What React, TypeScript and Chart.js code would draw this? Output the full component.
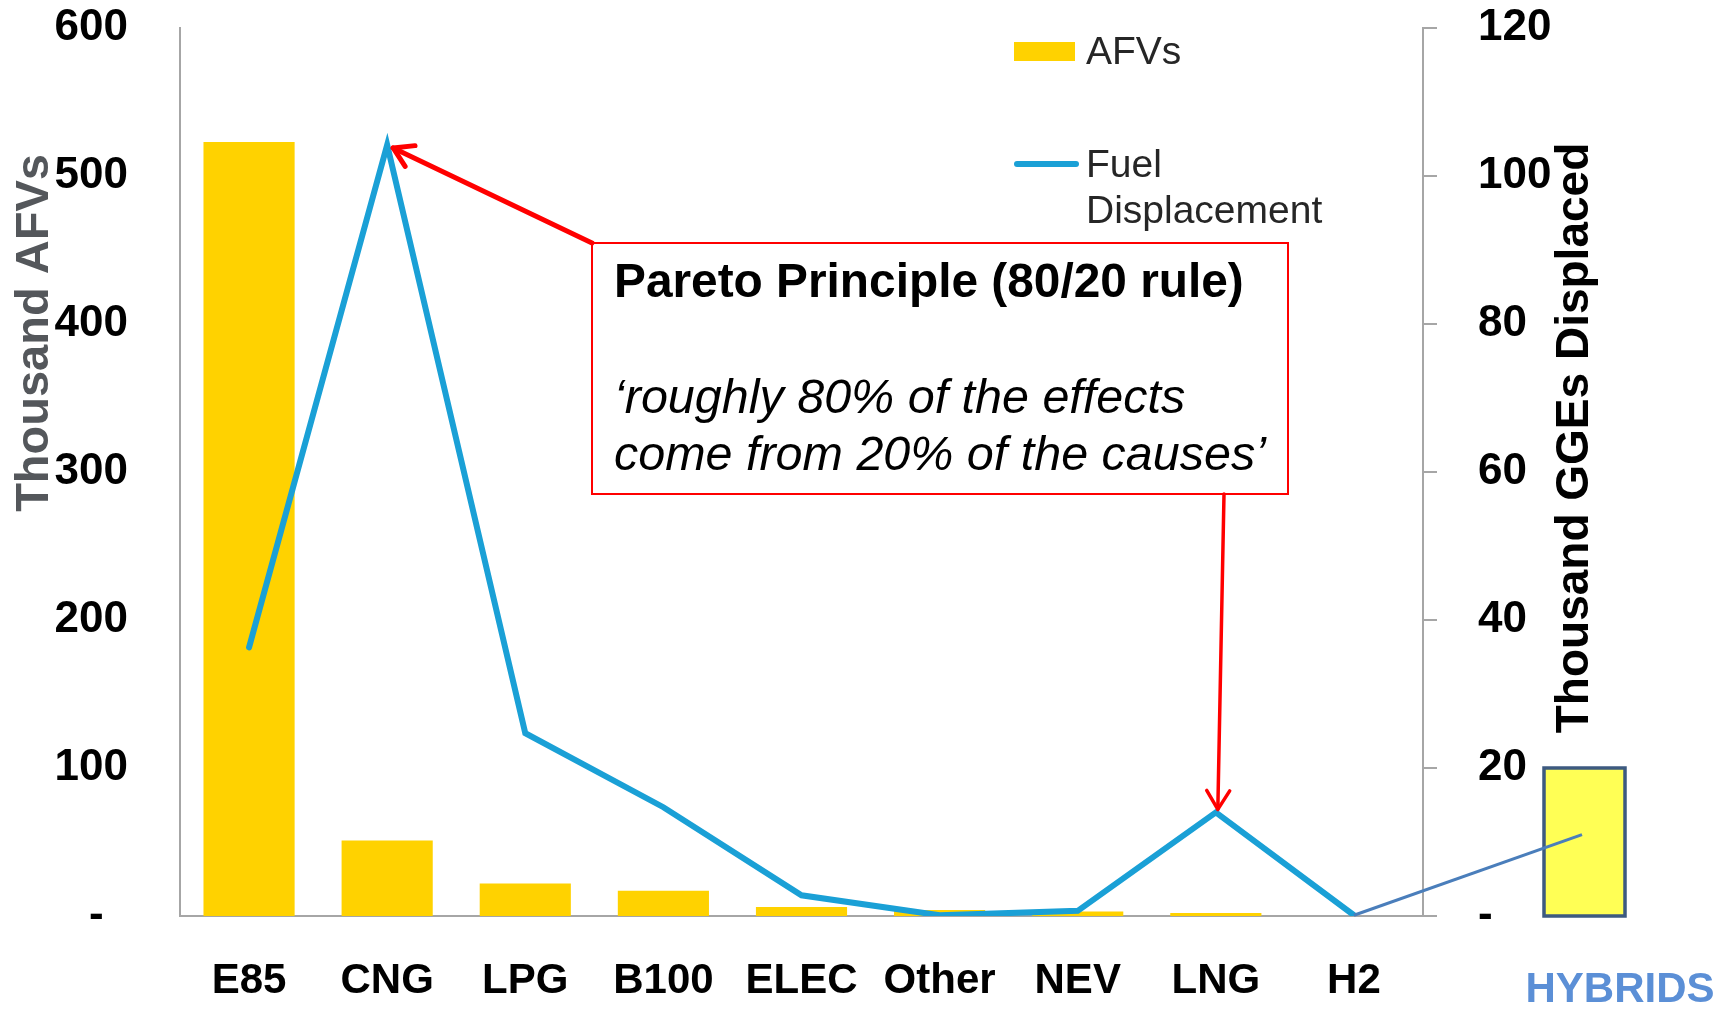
import React, { useEffect, useRef } from 'react';
import { Chart, registerables } from 'chart.js';

Chart.register(...registerables);

// ---------- data ----------
const categories = ['E85', 'CNG', 'LPG', 'B100', 'ELEC', 'Other', 'NEV', 'LNG', 'H2'];
const afvValues = [523, 51, 22, 17, 6, 4, 3, 2, 0];
const fuelDisplacementValues = [36.3, 104.2, 24.7, 14.7, 2.8, 0.1, 0.7, 14.0, 0.1];
const leftTickStep = 100;
const leftMax = 600;
const rightTickStep = 20;
const rightMax = 120;
const hybridsDisplacement = 20;
const hybridsPointerValue = 11;

const afvLabel = 'AFVs';
const fuelLabel = 'Fuel Displacement';
const fuelLegendLines = ['Fuel', 'Displacement'];
const leftTitle = 'Thousand AFVs';
const rightTitle = 'Thousand GGEs Displaced';
const noteTitle = 'Pareto Principle (80/20 rule)';
const noteLines = ['\u2018roughly 80% of the effects', 'come from 20% of the causes\u2019'];
const hybridsLabel = 'HYBRIDS';

// ---------- styles ----------
const FONT = '"Liberation Sans", Arial, sans-serif';
const YELLOW = '#FFD200';
const BLUE = '#1AA0D6';
const AXIS = '#a6a6a6';
const RED = '#FF0000';

function hasFont(ctx: CanvasRenderingContext2D, fam: string) {
  const s = 'abcdefghijklmnopqrstuvwxyz0123456789';
  ctx.font = '40px monospace';
  const a = ctx.measureText(s).width;
  ctx.font = `40px "${fam}", monospace`;
  const b = ctx.measureText(s).width;
  return Math.abs(a - b) > 0.5;
}

function fitSize(ctx: CanvasRenderingContext2D, text: string, style: string, family: string, width: number) {
  ctx.font = `${style} 100px ${family}`;
  const w = ctx.measureText(text).width;
  return (100 * width) / w;
}

function drawArrow(ctx: CanvasRenderingContext2D, x0: number, y0: number, x1: number, y1: number, head: number) {
  ctx.beginPath();
  ctx.moveTo(x0, y0);
  ctx.lineTo(x1, y1);
  ctx.stroke();
  const a = Math.atan2(y1 - y0, x1 - x0);
  const sp = 0.55;
  ctx.beginPath();
  ctx.moveTo(x1 - head * Math.cos(a - sp), y1 - head * Math.sin(a - sp));
  ctx.lineTo(x1, y1);
  ctx.lineTo(x1 - head * Math.cos(a + sp), y1 - head * Math.sin(a + sp));
  ctx.stroke();
}

const decor = {
  id: 'decor',
  afterDraw(chart: any) {
    const { ctx, scales } = chart;
    const xs = scales.x;
    const y1 = scales.y1;

    // axis titles
    ctx.save();
    ctx.fillStyle = '#54575b';
    ctx.font = `bold 47px ${FONT}`;
    ctx.textAlign = 'center';
    ctx.textBaseline = 'middle';
    ctx.translate(35, 333);
    ctx.rotate(-Math.PI / 2);
    ctx.fillText(leftTitle, 0, 0);
    ctx.restore();

    ctx.save();
    ctx.fillStyle = '#000';
    ctx.font = `bold 46px ${FONT}`;
    ctx.textAlign = 'center';
    ctx.textBaseline = 'middle';
    ctx.translate(1575, 438);
    ctx.rotate(-Math.PI / 2);
    ctx.fillText(rightTitle, 0, 0);
    ctx.restore();

    // legend
    const ds = chart.data.datasets;
    ctx.save();
    ctx.fillStyle = ds[0].backgroundColor;
    ctx.fillRect(1014, 42, 61, 19);
    ctx.strokeStyle = ds[1].borderColor;
    ctx.lineWidth = 6;
    ctx.lineCap = 'round';
    ctx.beginPath();
    ctx.moveTo(1017, 164);
    ctx.lineTo(1076, 164);
    ctx.stroke();
    ctx.fillStyle = '#262626';
    ctx.font = `39px ${FONT}`;
    ctx.textAlign = 'left';
    ctx.textBaseline = 'middle';
    ctx.fillText(ds[0].label, 1086, 53);
    ctx.fillText(fuelLegendLines[0], 1086, 166);
    ctx.fillText(fuelLegendLines[1], 1086, 212);
    ctx.restore();

    // annotation box
    const narrow = hasFont(ctx, 'Liberation Sans Narrow');
    const fam = narrow ? '"Liberation Sans Narrow", "Liberation Sans", sans-serif' : FONT;
    ctx.save();
    ctx.fillStyle = '#fff';
    ctx.fillRect(592, 243, 696, 251);
    ctx.strokeStyle = RED;
    ctx.lineWidth = 2;
    ctx.strokeRect(592, 243, 696, 251);
    ctx.fillStyle = '#000';
    ctx.textAlign = 'left';
    ctx.textBaseline = 'middle';
    const s1 = fitSize(ctx, noteTitle, 'bold', fam, 630);
    ctx.font = `bold ${s1}px ${fam}`;
    ctx.fillText(noteTitle, 614, 284);
    const s2 = fitSize(ctx, noteLines[1], 'italic', fam, 652);
    ctx.font = `italic ${s2}px ${fam}`;
    ctx.fillText(noteLines[0], 614, 400);
    ctx.fillText(noteLines[1], 614, 457);
    ctx.restore();

    // red arrows to CNG and LNG points
    const cngX = xs.getPixelForValue(1);
    const cngY = y1.getPixelForValue(fuelDisplacementValues[1]);
    const lngX = xs.getPixelForValue(7);
    const lngY = y1.getPixelForValue(fuelDisplacementValues[7]);
    ctx.save();
    ctx.strokeStyle = RED;
    ctx.lineCap = 'round';
    ctx.lineJoin = 'round';
    ctx.lineWidth = 5;
    drawArrow(ctx, 592, 243, cngX + 6, cngY + 3, 22);
    ctx.lineWidth = 3.5;
    drawArrow(ctx, 1224, 494, lngX + 2, lngY - 3, 22);
    ctx.restore();

    // hybrids box
    const hx0 = 1544;
    const hx1 = 1625;
    const hTop = y1.getPixelForValue(hybridsDisplacement);
    const hBot = y1.getPixelForValue(0);
    ctx.save();
    ctx.fillStyle = '#FFFF55';
    ctx.fillRect(hx0, hTop, hx1 - hx0, hBot - hTop);
    ctx.strokeStyle = '#3d5a80';
    ctx.lineWidth = 3.5;
    ctx.strokeRect(hx0, hTop, hx1 - hx0, hBot - hTop);
    // connector from H2 point
    const h2X = xs.getPixelForValue(8);
    const h2Y = y1.getPixelForValue(fuelDisplacementValues[8]);
    ctx.strokeStyle = '#4a7ebb';
    ctx.lineWidth = 3;
    ctx.beginPath();
    ctx.moveTo(h2X, h2Y);
    ctx.lineTo(1582, y1.getPixelForValue(hybridsPointerValue));
    ctx.stroke();
    ctx.fillStyle = '#5b8fd6';
    ctx.font = `bold 42px ${FONT}`;
    ctx.textAlign = 'center';
    ctx.textBaseline = 'middle';
    ctx.fillText(hybridsLabel, 1620, 990);
    ctx.restore();
  },
};

export default function App() {
  const ref = useRef<HTMLCanvasElement>(null);
  useEffect(() => {
    const canvas = ref.current;
    if (!canvas) return;
    const tickFont = { family: FONT, size: 44, weight: 'bold' as const };
    const noPad = (s: any) => {
      s.paddingTop = 0;
      s.paddingBottom = 0;
      s.paddingLeft = 0;
      s.paddingRight = 0;
    };
    const chart = new Chart(canvas, {
      type: 'bar',
      data: {
        labels: categories,
        datasets: [
          {
            type: 'bar',
            label: afvLabel,
            data: afvValues,
            backgroundColor: YELLOW,
            yAxisID: 'y',
            order: 2,
            barPercentage: 0.66,
            categoryPercentage: 1,
          },
          {
            type: 'line',
            label: fuelLabel,
            data: fuelDisplacementValues,
            borderColor: BLUE,
            backgroundColor: BLUE,
            borderWidth: 6,
            pointRadius: 0,
            tension: 0,
            borderCapStyle: 'round',
            yAxisID: 'y1',
            order: 1,
          } as any,
        ],
      },
      options: {
        responsive: false,
        animation: false,
        layout: { padding: { top: 28, left: 0, right: 0, bottom: 0 } },
        plugins: { legend: { display: false }, tooltip: { enabled: false } },
        scales: {
          x: {
            grid: { display: false },
            border: { display: true, color: AXIS, width: 2 },
            ticks: {
              color: '#000',
              font: { family: FONT, size: 42, weight: 'bold' },
              padding: 32,
              maxRotation: 0,
              autoSkip: false,
            },
            afterFit: (s: any) => {
              s.height = 95;
              noPad(s);
            },
          },
          y: {
            position: 'left',
            min: 0,
            max: leftMax,
            grid: { display: false },
            border: { display: true, color: AXIS, width: 2 },
            ticks: {
              stepSize: leftTickStep,
              color: '#000',
              font: tickFont,
              padding: 44,
              callback: (v: any) => (Number(v) === 0 ? '-  ' : String(v)),
            },
            afterFit: (s: any) => {
              s.width = 180;
              noPad(s);
            },
          },
          y1: {
            position: 'right',
            min: 0,
            max: rightMax,
            grid: { display: true, drawOnChartArea: false, drawTicks: true, tickLength: 14, color: AXIS, lineWidth: 2 },
            border: { display: true, color: AXIS, width: 2 },
            ticks: {
              stepSize: rightTickStep,
              color: '#000',
              font: tickFont,
              padding: 41,
              callback: (v: any) => (Number(v) === 0 ? '-' : String(v)),
            },
            afterFit: (s: any) => {
              s.width = 306;
              noPad(s);
            },
          },
        },
      } as any,
      plugins: [decor],
    });
    return () => chart.destroy();
  }, []);
  return (
    <div style={{ position: 'fixed', left: 0, top: 0, width: 1729, height: 1011, background: '#fff' }}>
      <canvas ref={ref} width={1729} height={1011} style={{ display: 'block' }} />
    </div>
  );
}
